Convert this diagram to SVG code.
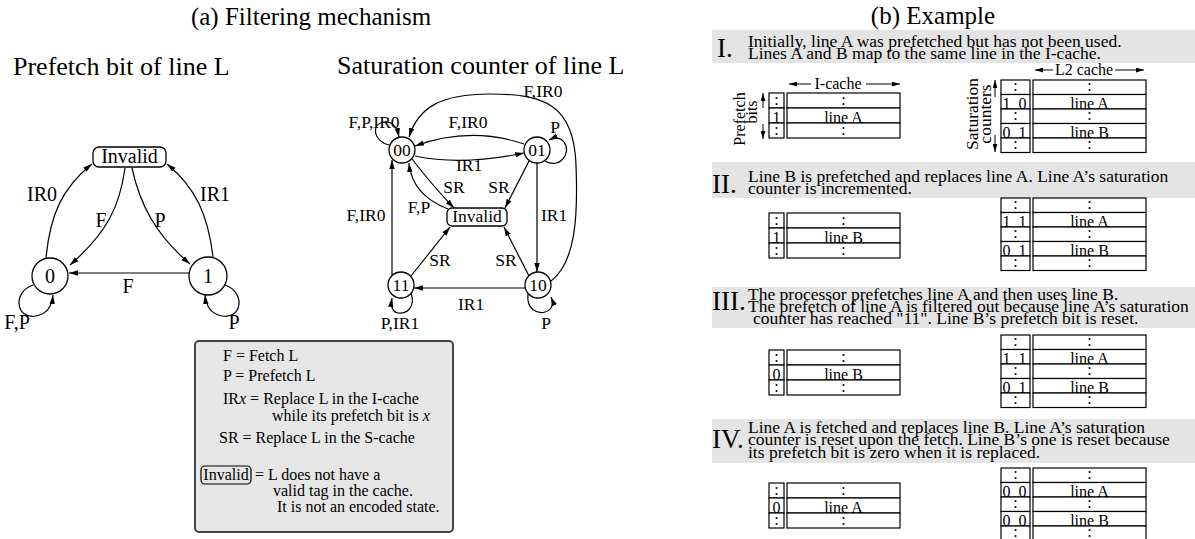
<svg xmlns="http://www.w3.org/2000/svg" width="1195" height="539" viewBox="0 0 1195 539">
<defs>
<style>
text{font-family:"Liberation Serif","Times New Roman",serif;fill:#000}
.ea{fill:none;stroke:#000;stroke-width:1.2;marker-end:url(#ah)}
.st{fill:#fff;stroke:#000;stroke-width:1.3}
.ttl{font-size:25px;text-anchor:middle}
.sub{font-size:26px}
.lbl{font-size:20px;text-anchor:middle}
.ml{font-size:17.5px;text-anchor:middle}
.band{fill:#e4e4e4}
.sec{font-size:17.5px}
.num{font-size:27px}
.cell{fill:#fff;stroke:#000;stroke-width:1.2}
.ct{font-size:16px;text-anchor:middle}
.lg{font-size:16px}
.ax{fill:none;stroke:#000;stroke-width:1;marker-end:url(#sh)}
</style>
<marker id="ah" viewBox="0 0 10 6" refX="10" refY="3" markerWidth="9" markerHeight="6" markerUnits="userSpaceOnUse" orient="auto"><path d="M0,0L10,3L0,6z"/></marker>
<marker id="sh" viewBox="0 0 10 6" refX="10" refY="3" markerWidth="8" markerHeight="5" markerUnits="userSpaceOnUse" orient="auto"><path d="M0,0L10,3L0,6z"/></marker>
<!-- I-cache slice: prefetch-bit column + line column, three rows -->
<g id="itab">
<rect class="cell" x="0" y="0" width="15" height="15"/><rect class="cell" x="0" y="15" width="15" height="15"/><rect class="cell" x="0" y="30" width="15" height="15"/>
<rect class="cell" x="18" y="0" width="113" height="15"/><rect class="cell" x="18" y="15" width="113" height="15"/><rect class="cell" x="18" y="30" width="113" height="15"/>
<text class="ct" x="7.5" y="11.5">:</text><text class="ct" x="7.5" y="41.5">:</text>
<text class="ct" x="74.5" y="11.5">:</text><text class="ct" x="74.5" y="41.5">:</text>
</g>
<!-- L2 slice: counter column + line column, five rows -->
<g id="ltab">
<rect class="cell" x="0" y="0" width="29" height="14.5"/><rect class="cell" x="0" y="14.5" width="29" height="14.5"/><rect class="cell" x="0" y="29" width="29" height="14.5"/><rect class="cell" x="0" y="43.5" width="29" height="14.5"/><rect class="cell" x="0" y="58" width="29" height="14.5"/>
<rect class="cell" x="32" y="0" width="113" height="14.5"/><rect class="cell" x="32" y="14.5" width="113" height="14.5"/><rect class="cell" x="32" y="29" width="113" height="14.5"/><rect class="cell" x="32" y="43.5" width="113" height="14.5"/><rect class="cell" x="32" y="58" width="113" height="14.5"/>
<text class="ct" x="14.5" y="11">:</text><text class="ct" x="14.5" y="40">:</text><text class="ct" x="14.5" y="69">:</text>
<text class="ct" x="88.5" y="11">:</text><text class="ct" x="88.5" y="40">:</text><text class="ct" x="88.5" y="69">:</text>
</g>
</defs>

<!-- ===== (a) filtering mechanism ===== -->
<text class="ttl" x="311" y="25">(a) Filtering mechanism</text>
<text class="sub" x="13" y="75">Prefetch bit of line L</text>
<text class="sub" x="337" y="74">Saturation counter of line L</text>

<!-- prefetch bit machine -->
<g id="pb-invalid"><rect class="st" x="93" y="147" width="73" height="20" rx="6"/><text class="lbl" x="129.5" y="163">Invalid</text></g>
<g id="pb-0"><circle class="st" cx="50" cy="276" r="18"/><text class="lbl" x="50" y="283">0</text></g>
<g id="pb-1"><circle class="st" cx="208" cy="276" r="19"/><text class="lbl" x="208" y="283">1</text></g>
<g id="pb-edges">
<path class="ea" d="M189,273L69,273"/>
<path class="ea" d="M46,258C50,215 62,188 92,164"/>
<path class="ea" d="M213,257C208,215 196,188 167,164"/>
<path class="ea" d="M125,168C120,205 108,232 70,265"/>
<path class="ea" d="M132,168C140,205 156,235 190,264"/>
<path class="ea" d="M33,285C12,292 16,320 36,316C47,314 52,306 53,295"/>
<path class="ea" d="M225,285C246,292 242,320 222,316C211,314 206,306 205,295"/>
</g>
<g id="pb-labels">
<text class="lbl" x="128" y="293">F</text>
<text class="lbl" x="42" y="201">IR0</text>
<text class="lbl" x="215" y="201">IR1</text>
<text class="lbl" x="101" y="227">F</text>
<text class="lbl" x="160" y="227">P</text>
<text class="lbl" x="17" y="329">F,P</text>
<text class="lbl" x="234" y="329">P</text>
</g>

<!-- saturation counter machine -->
<g id="sc-00"><circle class="st" cx="402" cy="150" r="13"/><text class="ml" x="402" y="156">00</text></g>
<g id="sc-01"><circle class="st" cx="537" cy="150" r="13"/><text class="ml" x="537" y="156">01</text></g>
<g id="sc-11"><circle class="st" cx="401" cy="285" r="13"/><text class="ml" x="401" y="291">11</text></g>
<g id="sc-10"><circle class="st" cx="538" cy="285" r="13"/><text class="ml" x="538" y="291">10</text></g>
<g id="sc-invalid"><rect class="st" x="447" y="208" width="60" height="18" rx="5"/><text class="ml" x="477" y="222">Invalid</text></g>
<g id="sc-edges">
<path class="ea" d="M524,144Q470,126 415,146"/>
<path class="ea" d="M415,156Q462,166 524,153"/>
<path class="ea" d="M551,281C576,262 578,215 576,165C574,105 545,94 490,94C440,94 418,108 409,137"/>
<path class="ea" d="M392,275L392,160"/>
<path class="ea" d="M537,163L537,272"/>
<path class="ea" d="M525,288L414,288"/>
<path class="ea" d="M412,159Q432,185 454,208"/>
<path class="ea" d="M448,209Q412,195 409,163"/>
<path class="ea" d="M529,161L505,208"/>
<path class="ea" d="M411,276L450,227"/>
<path class="ea" d="M529,276L504,227"/>
<path class="ea" d="M389,145C374,142 370,124 384,122C392,121 397,127 399,137"/>
<path class="ea" d="M545,161C560,170 572,152 564,142C560,137 555,137 549,140"/>
<path class="ea" d="M411,293C416,308 406,314 398,313C392,312 391,305 392,298"/>
<path class="ea" d="M528,294C526,310 538,314 545,312C552,310 554,304 551,297"/>
</g>
<g id="sc-labels">
<text class="ml" x="543" y="97">F,IR0</text>
<text class="ml" x="374" y="128">F,P,IR0</text>
<text class="ml" x="468" y="128">F,IR0</text>
<text class="ml" x="555" y="133">P</text>
<text class="ml" x="469" y="171">IR1</text>
<text class="ml" x="454" y="193">SR</text>
<text class="ml" x="499" y="193">SR</text>
<text class="ml" x="419" y="213">F,P</text>
<text class="ml" x="366" y="221">F,IR0</text>
<text class="ml" x="554" y="221">IR1</text>
<text class="ml" x="440" y="266">SR</text>
<text class="ml" x="506" y="266">SR</text>
<text class="ml" x="471" y="310">IR1</text>
<text class="ml" x="400" y="329">P,IR1</text>
<text class="ml" x="546" y="329">P</text>
</g>

<!-- legend -->
<g id="legend">
<rect x="195" y="341" width="258" height="191" rx="4" fill="#e6e6e6" stroke="#444" stroke-width="2"/>
<text class="lg" x="223" y="361">F = Fetch L</text>
<text class="lg" x="223" y="381">P = Prefetch L</text>
<text class="lg" x="223" y="404">IR<tspan font-style="italic">x</tspan> = Replace L in the I-cache</text>
<text class="lg" x="272" y="421">while its prefetch bit is <tspan font-style="italic">x</tspan></text>
<text class="lg" x="219" y="443">SR = Replace L in the S-cache</text>
<rect x="201" y="466" width="50" height="18" rx="4" fill="none" stroke="#000" stroke-width="1.2"/>
<text class="lg" x="226" y="480" text-anchor="middle">Invalid</text>
<text class="lg" x="255" y="480">= L does not have a</text>
<text class="lg" x="273" y="496">valid tag in the cache.</text>
<text class="lg" x="277" y="512">It is not an encoded state.</text>
</g>

<!-- ===== (b) example ===== -->
<text class="ttl" x="933" y="24">(b) Example</text>

<g id="step-1">
<rect class="band" x="712" y="30" width="483" height="33"/>
<text class="num" x="717" y="57">I.</text>
<text class="sec" x="748" y="47">Initially, line A was prefetched but has not been used.</text>
<text class="sec" x="748" y="59">Lines A and B map to the same line in the I-cache.</text>
<text class="ct" x="838" y="89">I-cache</text>
<path class="ax" d="M811,84L789,84"/><path class="ax" d="M866,84L900,84"/>
<text class="ct" transform="translate(745,119) rotate(-90)">Prefetch</text>
<text class="ct" transform="translate(757,112) rotate(-90)">bits</text>
<path class="ax" d="M763,108L763,93"/><path class="ax" d="M763,124L763,139"/>
<use href="#itab" x="769" y="93"/>
<text class="ct" x="776.5" y="122.5">1</text><text class="ct" x="843.5" y="122.5">line A</text>
<text class="ct" x="1084" y="75">L2 cache</text>
<path class="ax" d="M1053,70L1035,70"/><path class="ax" d="M1115,70L1144,70"/>
<text class="ct" style="font-size:17.5px" transform="translate(978,114) rotate(-90)">Saturation</text>
<text class="ct" style="font-size:17.5px" transform="translate(991,114) rotate(-90)">counters</text>
<path class="ax" d="M995,97L995,80"/><path class="ax" d="M995,135L995,152"/>
<use href="#ltab" x="1001" y="80"/>
<text class="ct" x="1015.5" y="108.5" letter-spacing="2">1 0</text><text class="ct" x="1089.5" y="108.5">line A</text>
<text class="ct" x="1015.5" y="137.5" letter-spacing="2">0 1</text><text class="ct" x="1089.5" y="137.5">line B</text>
</g>

<g id="step-2">
<rect class="band" x="712" y="162" width="483" height="36"/>
<text class="num" x="712" y="193">II.</text>
<text class="sec" x="748" y="182">Line B is prefetched and replaces line A. Line A’s saturation</text>
<text class="sec" x="748" y="194">counter is incremented.</text>
<use href="#itab" x="769" y="213"/>
<text class="ct" x="776.5" y="242.5">1</text><text class="ct" x="843.5" y="242.5">line B</text>
<use href="#ltab" x="1001" y="198"/>
<text class="ct" x="1015.5" y="226.5" letter-spacing="2">1 1</text><text class="ct" x="1089.5" y="226.5">line A</text>
<text class="ct" x="1015.5" y="255.5" letter-spacing="2">0 1</text><text class="ct" x="1089.5" y="255.5">line B</text>
</g>

<g id="step-3">
<rect class="band" x="712" y="287" width="483" height="41"/>
<text class="num" x="712" y="310">III.</text>
<text class="sec" x="748" y="300">The processor prefetches line A and then uses line B.</text>
<text class="sec" x="748" y="312">The prefetch of line A is filtered out because line A’s saturation</text>
<text class="sec" x="753" y="324">counter has reached "11". Line B’s prefetch bit is reset.</text>
<use href="#itab" x="769" y="350"/>
<text class="ct" x="776.5" y="379.5">0</text><text class="ct" x="843.5" y="379.5">line B</text>
<use href="#ltab" x="1001" y="335"/>
<text class="ct" x="1015.5" y="363.5" letter-spacing="2">1 1</text><text class="ct" x="1089.5" y="363.5">line A</text>
<text class="ct" x="1015.5" y="392.5" letter-spacing="2">0 1</text><text class="ct" x="1089.5" y="392.5">line B</text>
</g>

<g id="step-4">
<rect class="band" x="712" y="419" width="483" height="44"/>
<text class="num" x="712" y="448">IV.</text>
<text class="sec" x="748" y="433">Line A is fetched and replaces line B. Line A’s saturation</text>
<text class="sec" x="748" y="445">counter is reset upon the fetch. Line B’s one is reset because</text>
<text class="sec" x="748" y="458">its prefetch bit is zero when it is replaced.</text>
<use href="#itab" x="769" y="483"/>
<text class="ct" x="776.5" y="512.5">0</text><text class="ct" x="843.5" y="512.5">line A</text>
<use href="#ltab" x="1001" y="468"/>
<text class="ct" x="1015.5" y="496.5" letter-spacing="2">0 0</text><text class="ct" x="1089.5" y="496.5">line A</text>
<text class="ct" x="1015.5" y="525.5" letter-spacing="2">0 0</text><text class="ct" x="1089.5" y="525.5">line B</text>
</g>
</svg>
